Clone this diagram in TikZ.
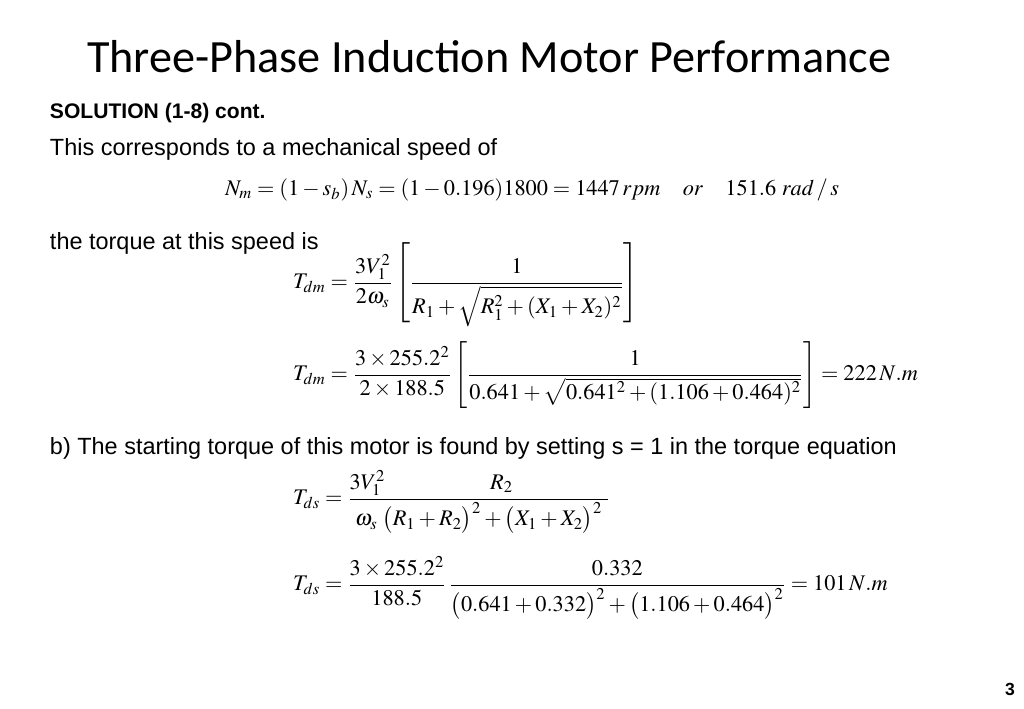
\documentclass[tikz,border=0pt]{standalone}
\usepackage{amsmath}
\usepackage{mathptmx}
\usepackage[no-math]{fontspec}
\setmainfont{Liberation Serif}
\newfontfamily\arialfont{Liberation Sans}
\newfontfamily\titlefont{Carlito}
\usepackage{tikz}
\tikzstyle{every node}=[inner sep=0pt,outer sep=0pt]
\tikzstyle{titletext}=[anchor=base west,font=\titlefont\fontsize{26.3}{31}\selectfont]
\tikzstyle{bodytext}=[anchor=base west,font=\arialfont\fontsize{13.35}{16}\selectfont]
\tikzstyle{eqn}=[anchor=west,font=\fontsize{12.7}{15}\selectfont]

\begin{document}
\begin{tikzpicture}[x=0.02cm,y=-0.02cm]
\useasboundingbox[fill=white] (0,0) rectangle (1024,709);
\node[titletext] (title) at (87,73) {Three-Phase Induction Motor Performance};
\node[bodytext,font=\arialfont\bfseries\fontsize{12}{14}\selectfont] (sol) at (50,119) {SOLUTION (1-8) cont.};
\node[bodytext] (speedtxt) at (50,156) {This corresponds to a mechanical speed of};
\node[eqn] (nm) at (225,190) {$N_m = (1-s_b)\,N_s = (1-0.196)1800 = 1447\,rpm\quad or\quad 151.6\ rad\,/\,s$};
\node[bodytext] (torquetxt) at (50,250) {the torque at this speed is};
\node[eqn] (tdmone) at (293,285) {$T_{dm} = \dfrac{3V_1^2}{2\omega_s}\left[\dfrac{1}{R_1+\sqrt{R_1^2+(X_1+X_2)^2}}\right]$};
\node[eqn] (tdmtwo) at (293,375) {$T_{dm} = \dfrac{3\times 255.2^2}{2\times 188.5}\left[\dfrac{1}{0.641+\sqrt{0.641^2+(1.106+0.464)^2}}\right] = 222\,N.m$};
\node[bodytext] (starttxt) at (50,454) {b) The starting torque of this motor is found by setting s = 1 in the torque equation};
\node[eqn] (tdsone) at (293,502) {$T_{ds} = \dfrac{3V_1^2\hspace{2.1cm}R_2\hspace{1.9cm}}{\omega_s\;\bigl(R_1+R_2\bigr)^2+\bigl(X_1+X_2\bigr)^2}$};
\node[eqn] (tdstwo) at (293,588) {$T_{ds} = \dfrac{3\times 255.2^2}{188.5}\,\dfrac{0.332}{\bigl(0.641+0.332\bigr)^2+\bigl(1.106+0.464\bigr)^2} = 101\,N.m$};
\node[anchor=base east,font=\arialfont\bfseries\fontsize{10}{12}\selectfont] (pagenum) at (1015,695) {3};
\end{tikzpicture}
\end{document}
